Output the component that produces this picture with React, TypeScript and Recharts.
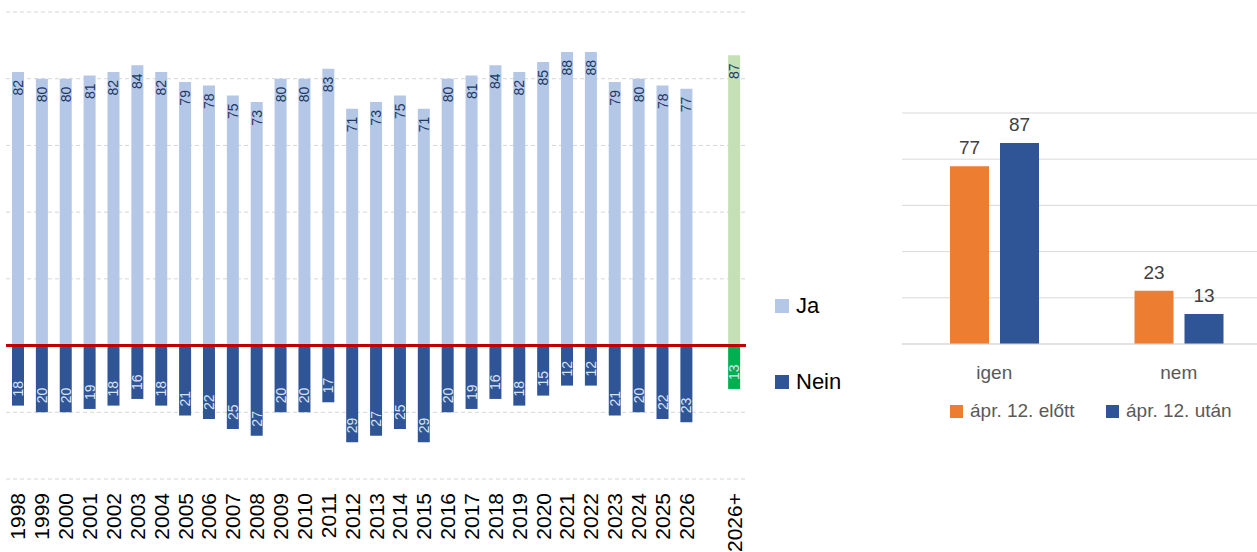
import { BarChart, Bar, XAxis, YAxis, CartesianGrid, ReferenceLine, LabelList, Cell } from 'recharts'

const FONT = '"Liberation Sans", Arial, sans-serif'

// left: yearly yes / no, with an empty slot before the forecast column
const years = [
  '1998', '1999', '2000', '2001', '2002', '2003', '2004', '2005', '2006', '2007',
  '2008', '2009', '2010', '2011', '2012', '2013', '2014', '2015', '2016', '2017',
  '2018', '2019', '2020', '2021', '2022', '2023', '2024', '2025', '2026', '', '2026+',
]
const jaValues = [
  82, 80, 80, 81, 82, 84, 82, 79, 78, 75,
  73, 80, 80, 83, 71, 73, 75, 71, 80, 81,
  84, 82, 85, 88, 88, 79, 80, 78, 77, null, 87,
]
const neinValues = [
  18, 20, 20, 19, 18, 16, 18, 21, 22, 25,
  27, 20, 20, 17, 29, 27, 25, 29, 20, 19,
  16, 18, 15, 12, 12, 21, 20, 22, 23, null, 13,
]
const forecastYear = '2026+'
const trendTicks = [-40, -20, 0, 20, 40, 60, 80, 100]

// right: before / after comparison
const compareCategories = ['igen', 'nem']
const beforeValues = [77, 23]
const afterValues = [87, 13]
const compareTicks = [0, 20, 40, 60, 80, 100]

const trendData = years.map((year, i) => ({
  year,
  ja: jaValues[i],
  nein: neinValues[i] == null ? null : -(neinValues[i] as number),
}))

const compareData = compareCategories.map((cat, i) => ({
  cat,
  before: beforeValues[i],
  after: afterValues[i],
}))

function box(props: any) {
  const vb = props.viewBox || props
  const x = Number(vb.x)
  const y = Number(vb.y)
  const w = Number(vb.width)
  const h = Number(vb.height)
  return { cx: x + w / 2, top: Math.min(y, y + h), bottom: Math.max(y, y + h) }
}

function JaLabel(props: any) {
  const { value, index } = props
  if (value == null) return null
  const { cx, top } = box(props)
  if (years[index] === forecastYear) {
    return (
      <text transform={`translate(${cx},${top + 9}) rotate(90)`} textAnchor="start"
        dominantBaseline="central" fontSize={14} fontFamily={FONT} fill="#203864">
        {value}
      </text>
    )
  }
  return (
    <text transform={`translate(${cx},${top + 8}) rotate(-90)`} textAnchor="end"
      dominantBaseline="central" fontSize={14} fontFamily={FONT} fill="#203864">
      {value}
    </text>
  )
}

function NeinLabel(props: any) {
  const { value, index } = props
  if (value == null) return null
  const { cx, bottom } = box(props)
  const fill = years[index] === forecastYear ? '#e2f0d9' : '#dae3f3'
  return (
    <text transform={`translate(${cx},${bottom - 9}) rotate(-90)`} textAnchor="start"
      dominantBaseline="central" fontSize={14} fontFamily={FONT} fill={fill}>
      {Math.abs(value)}
    </text>
  )
}

function YearTick({ x, y, payload }: any) {
  return (
    <text transform={`translate(${x},${y}) rotate(-90)`} textAnchor="end"
      dominantBaseline="central" fontSize={21} fontFamily={FONT} fill="#000">
      {payload.value}
    </text>
  )
}

function CatTick({ x, y, payload }: any) {
  return (
    <text x={x} y={y + 35} textAnchor="middle" fontSize={19} fontFamily={FONT} fill="#595959">
      {payload.value}
    </text>
  )
}

const legendItem = (color: string, label: string, left: number, top: number, size: number, fontSize: number, textColor: string) => (
  <div style={{ position: 'absolute', left, top, display: 'flex', alignItems: 'center', fontFamily: FONT, fontSize, color: textColor, whiteSpace: 'nowrap' }}>
    <span style={{ display: 'inline-block', width: size, height: size, background: color, marginRight: 7 }} />
    <span>{label}</span>
  </div>
)

export default function App() {
  return (
    <div style={{ position: 'absolute', left: 0, top: 0, width: 1257, height: 552, overflow: 'hidden', background: '#fff' }}>
      <div style={{ position: 'absolute', left: 0, top: 0 }}>
        <BarChart width={760} height={552} data={trendData} stackOffset="sign" barSize={12}
          margin={{ top: 12, right: 14, left: 6, bottom: 0 }}>
          <CartesianGrid vertical={false} stroke="#d6d6d6" strokeDasharray="4 3" />
          <XAxis dataKey="year" height={73} interval={0} axisLine={false} tickLine={false}
            tickSize={0} tickMargin={14} tick={<YearTick />} />
          <YAxis hide width={0} domain={[-40, 100]} ticks={trendTicks} />
          <Bar dataKey="ja" stackId="a" fill="#b4c7e7" isAnimationActive={false}>
            {trendData.map((d) => (
              <Cell key={`ja-${d.year}`} fill={d.year === forecastYear ? '#c5e0b4' : '#b4c7e7'} />
            ))}
            <LabelList dataKey="ja" content={<JaLabel />} />
          </Bar>
          <Bar dataKey="nein" stackId="a" fill="#2f5597" isAnimationActive={false}>
            {trendData.map((d) => (
              <Cell key={`nein-${d.year}`} fill={d.year === forecastYear ? '#00b050' : '#2f5597'} />
            ))}
            <LabelList dataKey="nein" content={<NeinLabel />} />
          </Bar>
          <ReferenceLine y={0} stroke="#c00000" strokeWidth={3} />
        </BarChart>
      </div>

      {legendItem('#b4c7e7', 'Ja', 775, 293, 14, 22, '#000')}
      {legendItem('#2f5597', 'Nein', 775, 369, 14, 22, '#000')}

      <div style={{ position: 'absolute', left: 880, top: 0 }}>
        <BarChart width={400} height={420} data={compareData} barSize={39} barGap={11}
          margin={{ top: 113, right: 9, left: 22, bottom: 16 }}>
          <CartesianGrid vertical={false} stroke="#d9d9d9" />
          <XAxis dataKey="cat" height={60} axisLine={{ stroke: '#d9d9d9' }} tickLine={false}
            tickSize={0} tickMargin={0} tick={<CatTick />} />
          <YAxis hide width={0} domain={[0, 100]} ticks={compareTicks} />
          <Bar dataKey="before" fill="#ed7d31" isAnimationActive={false}>
            <LabelList dataKey="before" position="top" offset={12} fontSize={19} fontFamily={FONT} fill="#404040" />
          </Bar>
          <Bar dataKey="after" fill="#2f5597" isAnimationActive={false}>
            <LabelList dataKey="after" position="top" offset={12} fontSize={19} fontFamily={FONT} fill="#404040" />
          </Bar>
        </BarChart>
      </div>

      {legendItem('#ed7d31', 'ápr. 12. előtt', 950, 400, 13, 19, '#595959')}
      {legendItem('#2f5597', 'ápr. 12. után', 1106, 400, 13, 19, '#595959')}
    </div>
  )
}
